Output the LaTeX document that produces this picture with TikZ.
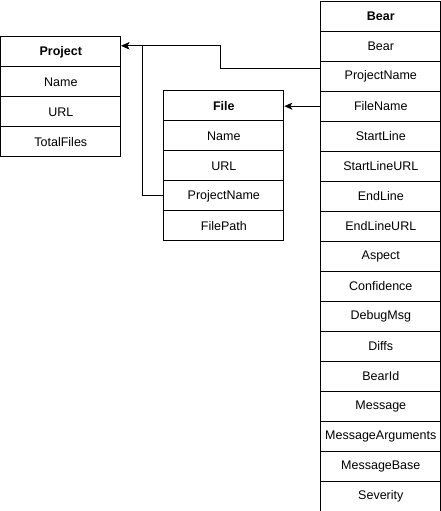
\documentclass[tikz,border=0pt]{standalone}
\usepackage{fontspec}
\setmainfont{Liberation Sans}
\usetikzlibrary{arrows.meta}
\begin{document}
\begin{tikzpicture}[x=1pt,y=-1pt,
  cell/.style={draw, line width=1pt, minimum width=120pt, minimum height=30pt, inner sep=0pt, anchor=north west, fill=white, font=\fontsize{12.5pt}{14pt}\selectfont},
  headcell/.style={cell, font=\fontsize{12.5pt}{14pt}\selectfont\bfseries},
  arr/.style={line width=1pt, -{Stealth[length=8pt,width=7pt,inset=2pt]}}]
\useasboundingbox (0,0) rectangle (441,511);
% Project
\node[headcell] (proj0) at (0.3,36.3) {Project};
\foreach \t [count=\i] in {Name,URL,TotalFiles}
  \node[cell] (proj\i) at (0.3,{36.3+30*\i}) {\t};
% File
\node[headcell] (file0) at (163.3,90.3) {File};
\foreach \t [count=\i] in {Name,URL,ProjectName,FilePath}
  \node[cell] (file\i) at (163.3,{90.3+30*\i}) {\t};
% Bear
\node[headcell] (bear0) at (320.3,0.7) {Bear};
\foreach \t [count=\i] in {Bear,ProjectName,FileName,StartLine,StartLineURL,EndLine,EndLineURL,Aspect,Confidence,DebugMsg,Diffs,BearId,Message,MessageArguments,MessageBase,Severity}
  \node[cell] (bear\i) at (320.3,{0.7+30*\i}) {\t};
% connectors
\coordinate (pin) at ([yshift=6pt]proj0.east);
\draw[arr] ([yshift=7.5pt]bear2.west) -- ++(-100,0) |- (pin);
\draw[arr] (file3.west) -- ++(-20.5,0) |- (pin);
\draw[arr] (bear3.west) -- (bear3.west -| file0.east);
\end{tikzpicture}
\end{document}
